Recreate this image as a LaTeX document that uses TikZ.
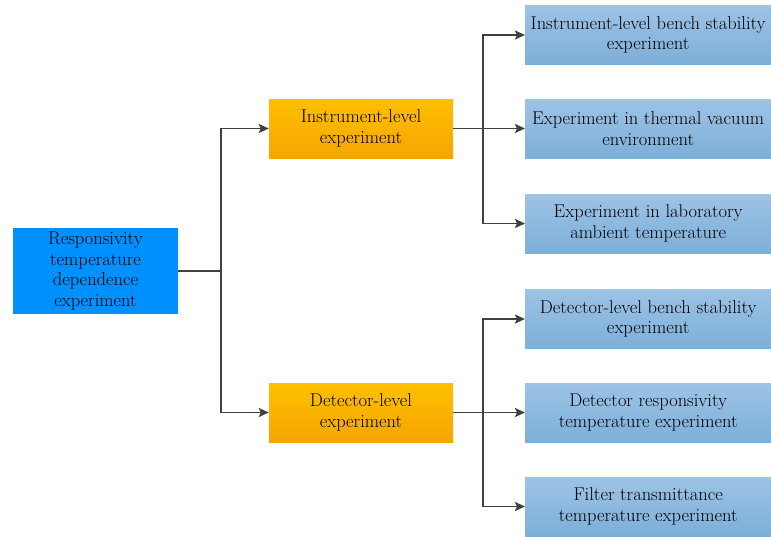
\documentclass[tikz,border=0pt]{standalone}
\usepackage{tikz}
\usetikzlibrary{arrows.meta,positioning}

\definecolor{rootblue}{RGB}{0,145,255}
\definecolor{levtop}{RGB}{255,192,0}
\definecolor{levbot}{RGB}{245,165,0}
\definecolor{leaftop}{RGB}{157,195,230}
\definecolor{leafbot}{RGB}{125,175,216}
\definecolor{linegray}{RGB}{64,64,64}

\begin{document}
\begin{tikzpicture}[
    x=1pt, y=-1pt,
    font=\fontsize{18.5}{20.5}\selectfont,
    root/.style = {rectangle, fill=rootblue, minimum width=165pt, minimum height=86pt, align=center},
    level/.style = {rectangle, top color=levtop, bottom color=levbot, minimum width=184pt, minimum height=59pt, align=center},
    leaf/.style = {rectangle, top color=leaftop, bottom color=leafbot, minimum width=246pt, minimum height=59pt, align=center, anchor=west},
    arrow/.style = {->, >={Stealth[length=10pt,width=9pt,inset=2pt]}, line width=1.8pt, draw=linegray},
    line/.style = {line width=1.8pt, draw=linegray}
]
\useasboundingbox (0,0) rectangle (771,536);

% Root
\node[root] (resp) at (95.5,271) {Responsivity\\ temperature\\ dependence\\ experiment};

% Level layer
\node[level] (inst) at (361,128.5) {Instrument-level\\ experiment};
\node[level] (det) at (361,412.5) {Detector-level\\ experiment};

% Instrument-level experiments
\node[leaf] (ibench) at (525,35) {Instrument-level bench stability\\ experiment};
\node[leaf] (vacuum) at (525,128.5) {Experiment in thermal vacuum\\ environment};
\node[leaf] (ambient) at (525,223.5) {Experiment in laboratory\\ ambient temperature};

% Detector-level experiments
\node[leaf] (dbench) at (525,319) {Detector-level bench stability\\ experiment};
\node[leaf] (dresp) at (525,412.5) {Detector responsivity\\ temperature experiment};
\node[leaf] (filter) at (525,506.5) {Filter transmittance\\ temperature experiment};

% Branch points
\coordinate (trunk) at (221,271);
\coordinate (isplit) at (483,128.5);
\coordinate (dsplit) at (483,412.5);

% Arrows
\draw[line] (resp.east) -- (trunk);
\draw[arrow] (trunk) |- (inst);
\draw[arrow] (trunk) |- (det);

\draw[arrow] (inst) -- (vacuum);
\draw[arrow] (isplit) |- (ibench);
\draw[arrow] (isplit) |- (ambient);

\draw[arrow] (det) -- (dresp);
\draw[arrow] (dsplit) |- (dbench);
\draw[arrow] (dsplit) |- (filter);

\end{tikzpicture}
\end{document}
